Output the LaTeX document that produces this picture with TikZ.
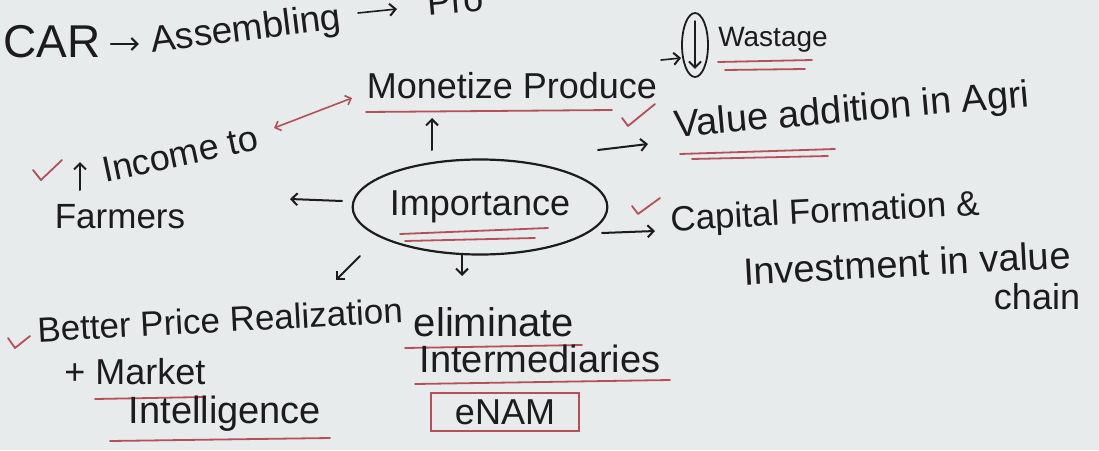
\documentclass[tikz,border=0pt]{standalone}
\usepackage{fontspec}
\setmainfont{Liberation Sans}
\usetikzlibrary{shapes.geometric,arrows.meta}
\definecolor{paper}{HTML}{E7EBEB}
\definecolor{ink}{HTML}{1C1C1E}
\definecolor{redink}{HTML}{B5505A}
\begin{document}
\begin{tikzpicture}[x=1pt,y=-1pt,
  every node/.style={text=ink, inner sep=0pt},
  txt/.style={font=\fontsize{#1}{#1}\selectfont},
  arr/.style={draw=ink, line width=2pt, line cap=round, -{Straight Barb[length=6pt,width=12pt,line width=2pt]}},
  redarr/.style={draw=redink, line width=1.6pt, line cap=round, {Straight Barb[length=5pt,width=10pt]}-{Straight Barb[length=5pt,width=10pt]}},
  redline/.style={draw=redink, line width=1.8pt, line cap=round},
  tick/.style={draw=redink, line width=1.8pt, line cap=round, line join=round}]
\useasboundingbox[fill=paper] (0,0) rectangle (1099,450);

% top line
\node[txt=46] (car) at (52,42) {CAR};
\node[txt=37, rotate=7] (asm) at (246,31) {Assembling};
\node[txt=36, rotate=5] (pro) at (455,1) {Pro};
\draw[arr, line width=1.6pt] (car.east) ++(10,2) coordinate (ca1) -- ++(28,0) coordinate (ca2);
\coordinate (ap1) at (358,13);
\coordinate (ap2) at (397,9);
\draw[arr, line width=1.6pt] (ap1) -- (ap2);

% Monetize produce
\node[txt=36] (mon) at (512,86) {Monetize Produce};
\draw[redline] (366,112) -- (612,110);
\node[draw=ink, line width=1.8pt, ellipse, minimum width=26, minimum height=64] (circ) at (695,45) {};
\coordinate (m1) at (661,60);
\draw[arr, line width=1.6pt] (m1) -- ([yshift=-13]circ.west);
\draw[arr, line width=1.6pt] ([yshift=-9]circ.north) -- ([yshift=9]circ.south);
\node[txt=28] (wast) at (773,40) {Wastage};
\draw[redline] (718,62) -- (812,60);
\draw[redline] (725,70) -- (805,69);

% Importance
\node[draw=ink, ellipse, line width=2.2pt, minimum width=230, minimum height=95, txt=36] (imp) at (480,207) {Importance};
\draw[redline] (400,234) -- (548,228);
\draw[redline] (405,241) -- (535,238);

% Income to Farmers
\node[txt=36, rotate=12] (inc) at (180,154) {Income to};
\node[txt=35] (farm) at (120,217) {Farmers};
\coordinate (ia1) at (80,190);
\coordinate (ia2) at (80,162);
\draw[arr] (ia1) -- (ia2);
\draw[tick] (33,170) -- (41,180) -- (62,160);
\coordinate (rd1) at (274,128);
\coordinate (rd2) at (352,98);
\draw[redarr] (rd1) -- (rd2);
\coordinate (fa1) at (342,201);
\coordinate (fa2) at (290,199);
\draw[arr] (fa1) -- (fa2);

% up to Monetize
\coordinate (up1) at (432,150);
\coordinate (up2) at (432,118);
\draw[arr] (up1) -- (up2);

% Value addition
\node[txt=38, rotate=5] (val) at (852,112) {Value addition in Agri};
\coordinate (va1) at (598,150);
\coordinate (va2) at (648,144);
\draw[arr] (va1) -- (va2);
\draw[tick] (622,118) -- (628,126) -- (655,104);
\draw[redline] (680,154) -- (835,149);
\draw[redline] (692,159) -- (828,156);

% Capital formation
\node[txt=35, rotate=3] (cap) at (825,214) {Capital Formation \&};
\node[txt=38, rotate=3] (inv) at (907,263) {Investment in value};
\node[txt=36] (chain) at (1037,297) {chain};
\coordinate (cf1) at (602,233);
\coordinate (cf2) at (655,231);
\draw[arr] (cf1) -- (cf2);
\draw[tick] (632,206) -- (638,214) -- (660,198);

% Better price realization
\coordinate (bp1) at (360,256);
\coordinate (bp2) at (336,280);
\draw[arr] (bp1) -- (bp2);
\node[txt=35, rotate=3] (bet) at (220,320) {Better Price Realization};
\draw[tick] (8,338) -- (15,348) -- (30,336);
\node[txt=36] (mkt) at (135,372) {+ Market};
\draw[redline] (95,399) -- (205,397);
\node[txt=38] (intl) at (225,414) {Intelligence};
\draw[redline] (110,441) -- (330,438);

% eliminate intermediaries
\coordinate (el1) at (462,254);
\coordinate (el2) at (462,276);
\draw[arr, line width=1.6pt] (el1) -- (el2);
\node[txt=40] (elim) at (494,322) {eliminate};
\draw[redline] (405,348) -- (582,345);
\node[txt=38] (inter) at (540,359) {Intermediaries};
\draw[redline] (415,384) -- (670,380);
\node[draw=redink, line width=1.8pt, minimum width=148, minimum height=38, txt=36] (enam) at (505,412) {eNAM};
\end{tikzpicture}
\end{document}
